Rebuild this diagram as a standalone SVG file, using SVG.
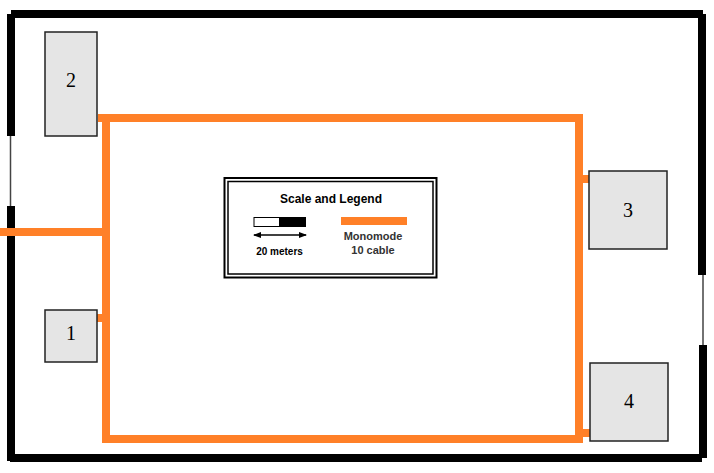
<svg xmlns="http://www.w3.org/2000/svg" width="714" height="473" viewBox="0 0 714 473">
<style>
.wall{fill:#000}
.thin{stroke:#444;stroke-width:1.5;fill:none}
.cable{fill:#ff8028}
.node{fill:#e5e5e5;stroke:#222;stroke-width:1.5}
.num{font-family:"Liberation Serif",serif;font-size:20px;text-anchor:middle;fill:#000}
.lg{font-family:"Liberation Sans",Arial,sans-serif;font-weight:bold;text-anchor:middle}
</style>
<defs>
<marker id="ah" markerWidth="8" markerHeight="6" refX="7" refY="3" orient="auto-start-reverse" markerUnits="userSpaceOnUse"><path d="M0,0L8,3L0,6z" fill="#000"/></marker>
</defs>
<rect width="714" height="473" fill="#fff"/>
<g id="walls">
<rect class="wall" x="11" y="10" width="692" height="8"/>
<rect class="wall" x="7" y="14" width="8" height="122"/>
<rect class="wall" x="7" y="206" width="8" height="255"/>
<rect class="wall" x="10" y="454" width="692" height="8"/>
<rect class="wall" x="698" y="14" width="8" height="261"/>
<rect class="wall" x="699" y="345" width="8" height="113"/>
<path class="thin" d="M10.500 136V206M703 275V345"/>
</g>
<g id="connectors">
<rect class="cable" x="0" y="228" width="106" height="8"/>
<rect class="cable" x="98" y="114" width="485" height="8"/>
<rect class="cable" x="102" y="114" width="8" height="329"/>
<rect class="cable" x="102" y="435" width="481" height="8"/>
<rect class="cable" x="575" y="114" width="8" height="329"/>
<rect class="cable" x="97" y="314" width="6" height="8"/>
<rect class="cable" x="582" y="175" width="7" height="8"/>
<rect class="cable" x="582" y="429" width="8" height="8"/>
</g>
<g id="node-2"><rect class="node" x="45" y="32" width="52" height="104"/><text class="num" x="71" y="87">2</text></g>
<g id="node-1"><rect class="node" x="45" y="310" width="52" height="52"/><text class="num" x="71" y="340">1</text></g>
<g id="node-3"><rect class="node" x="589" y="171" width="78" height="78"/><text class="num" x="628" y="217">3</text></g>
<g id="node-4"><rect class="node" x="590" y="363" width="78" height="78"/><text class="num" x="629" y="408">4</text></g>
<g id="legend">
<rect x="224.500" y="178" width="212" height="99.500" fill="#fff" stroke="#000" stroke-width="2"/>
<rect x="228" y="181.500" width="205" height="92.500" fill="none" stroke="#000" stroke-width="1.500"/>
<text class="lg" x="331" y="203" font-size="12">Scale and Legend</text>
<rect x="254" y="217.500" width="26" height="9" fill="#fff" stroke="#000" stroke-width="1"/>
<rect x="279" y="217" width="27" height="10" fill="#000"/>
<line x1="254" y1="235" x2="306" y2="235" stroke="#000" stroke-width="1.500" marker-start="url(#ah)" marker-end="url(#ah)"/>
<text class="lg" x="279.500" y="255" font-size="10">20 meters</text>
<rect class="cable" x="341" y="217" width="66" height="8"/>
<text class="lg" x="373" y="240" font-size="11" fill="#333">Monomode</text>
<text class="lg" x="373" y="254" font-size="11" fill="#333">10 cable</text>
</g>
</svg>
